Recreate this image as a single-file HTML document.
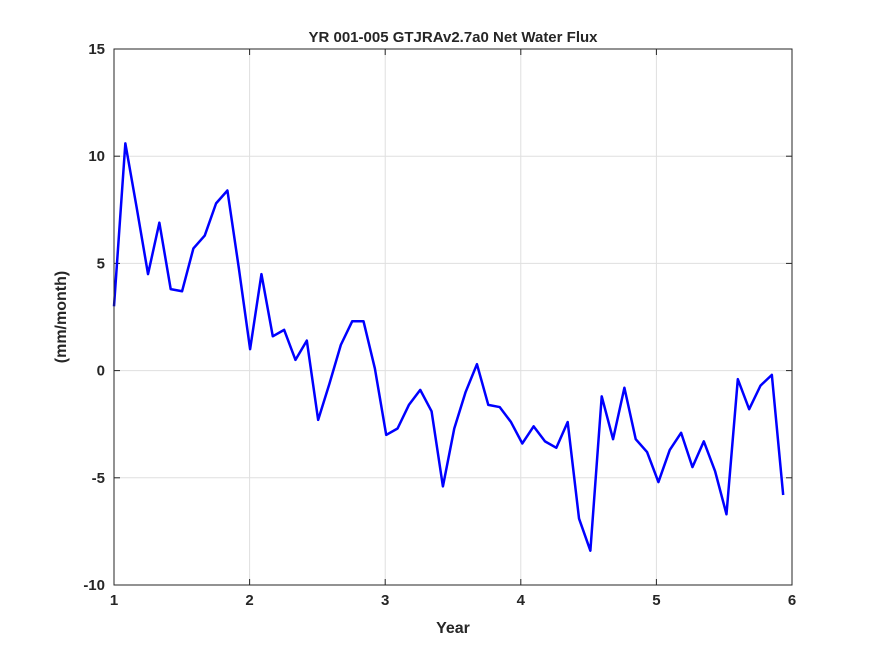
<!DOCTYPE html>
<html><head><meta charset="utf-8"><style>
body{margin:0;background:#fff;}
svg text{font-family:"Liberation Sans","DejaVu Sans",sans-serif;font-weight:bold;fill:#262626;}
</style></head><body>
<svg width="875" height="656" viewBox="0 0 875 656">
<rect x="0" y="0" width="875" height="656" fill="#fff"/>
<rect x="114" y="49" width="678" height="536" fill="#fff"/>
<g id="grid"></g>
<g id="ticks"></g>
<polyline id="line" fill="none" stroke="#0000ff" stroke-width="2.5" stroke-linejoin="round"/>
<rect x="114" y="49" width="678" height="536" fill="none" stroke="#262626" stroke-width="1"/>
<text x="453" y="42" text-anchor="middle" font-size="15">YR 001-005 GTJRAv2.7a0 Net Water Flux</text>
<text x="453" y="633" text-anchor="middle" font-size="16">Year</text>
<text x="0" y="0" transform="translate(66,317) rotate(-90)" text-anchor="middle" font-size="16">(mm/month)</text>
</svg>
<script>
const values=[3.0,10.6,7.6,4.5,6.9,3.8,3.7,5.7,6.3,7.8,8.4,4.8,1.0,4.5,1.6,1.9,0.5,1.4,-2.3,-0.6,1.2,2.3,2.3,0.1,-3.0,-2.7,-1.6,-0.9,-1.9,-5.4,-2.7,-1.0,0.3,-1.6,-1.7,-2.4,-3.4,-2.6,-3.3,-3.6,-2.4,-6.9,-8.4,-1.2,-3.2,-0.8,-3.2,-3.8,-5.2,-3.7,-2.9,-4.5,-3.3,-4.7,-6.7,-0.4,-1.8,-0.7,-0.2,-5.8];
const xTicks=[1,2,3,4,5,6];
const yTicks=[-10,-5,0,5,10,15];
const X0=114,X1=792,Y0=585,Y1=49,xmin=1,xmax=6,ymin=-10,ymax=15;
const sx=v=>X0+(v-xmin)/(xmax-xmin)*(X1-X0);
const sy=v=>Y0-(v-ymin)/(ymax-ymin)*(Y0-Y1);
const NS="http://www.w3.org/2000/svg";
const grid=document.getElementById('grid'),ticks=document.getElementById('ticks');
function mk(t,a,p){const e=document.createElementNS(NS,t);for(const k in a)e.setAttribute(k,a[k]);p.appendChild(e);return e;}
xTicks.forEach(v=>{const x=sx(v);
 const g=mk('line',{x1:x,x2:x,y1:Y1,y2:Y0,stroke:'#dfdfdf','stroke-width':1},grid);
 
 
 const t1=mk('line',{x1:x,x2:x,y1:Y0,y2:Y0-6,stroke:'#262626'},ticks);
 
 
 const t2=mk('line',{x1:x,x2:x,y1:Y1,y2:Y1+6,stroke:'#262626'},ticks);
 
 
 const l=mk('text',{x:x,y:Y0+20,'text-anchor':'middle','font-size':15},ticks);l.textContent=v;
 
 
});
yTicks.forEach(v=>{const y=sy(v);
 const g=mk('line',{x1:X0,x2:X1,y1:y,y2:y,stroke:'#dfdfdf','stroke-width':1},grid);
 
 
 const t1=mk('line',{x1:X0,x2:X0+6,y1:y,y2:y,stroke:'#262626'},ticks);
 
 
 const t2=mk('line',{x1:X1,x2:X1-6,y1:y,y2:y,stroke:'#262626'},ticks);
 
 
 const l=mk('text',{x:X0-9,y:y+5,'text-anchor':'end','font-size':15},ticks);l.textContent=v;
 
 
});
const n=values.length;
const pts=values.map((v,i)=>sx(xmin+i*(xmax-xmin)*0.987/(n-1))+','+sy(v)).join(' ');
document.getElementById('line').setAttribute('points',pts);
</script>
</body></html>
